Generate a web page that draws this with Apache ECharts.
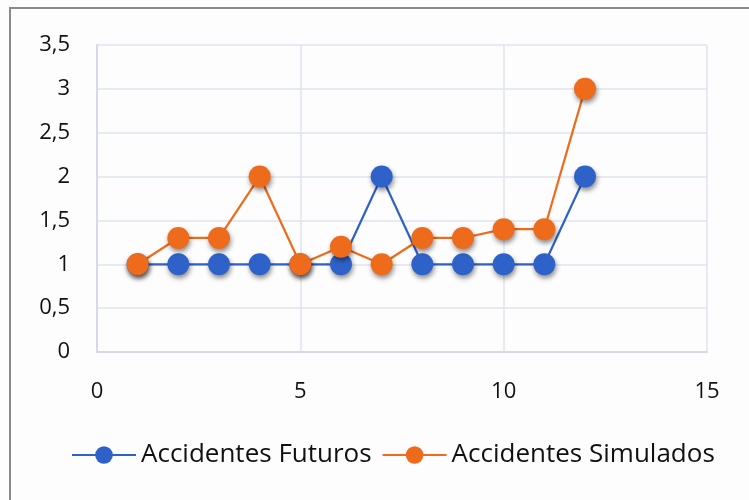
<!DOCTYPE html>
<html>
<head>
<meta charset="utf-8">
<script src="https://cdn.jsdelivr.net/npm/echarts@6/dist/echarts.min.js"></script>
<style>
  html, body { margin: 0; padding: 0; background: #fdfdfd; }
  #chart { width: 749px; height: 500px; }
</style>
</head>
<body>
<div id="chart"></div>
<script>
// Period index (x) and number of accidents for each series
const periods = [1, 2, 3, 4, 5, 6, 7, 8, 9, 10, 11, 12];
const accidentesFuturos = [1, 1, 1, 1, 1, 1, 2, 1, 1, 1, 1, 2];
const accidentesSimulados = [1, 1.3, 1.3, 2, 1, 1.2, 1, 1.3, 1.3, 1.4, 1.4, 3];
const seriesNames = ['Accidentes Futuros', 'Accidentes Simulados'];
const seriesColors = ['#2f62c9', '#ee6b1c'];

const FONT = 'Open Sans';
const TEXT_COLOR = '#111111';

const toPairs = ys => periods.map((x, i) => [x, ys[i]]);

function makeSeries(name, values, color) {
  return {
    name: name,
    type: 'line',
    data: toPairs(values),
    symbol: 'circle',
    symbolSize: 22,
    showSymbol: true,
    lineStyle: { color: color, width: 2.2 },
    itemStyle: {
      color: color,
      shadowBlur: 5,
      shadowColor: 'rgba(0,0,0,0.45)',
      shadowOffsetX: 1,
      shadowOffsetY: 3
    },
    emphasis: { disabled: true },
    animation: false
  };
}

const chart = echarts.init(document.getElementById('chart'), null, { renderer: 'canvas' });
chart.setOption({
  backgroundColor: '#fdfdfd',
  textStyle: { fontFamily: FONT },
  graphic: [{
    type: 'rect',
    shape: { x: 10, y: 8, width: 780, height: 520 },
    style: { fill: 'none', stroke: '#8a8a8a', lineWidth: 2 },
    silent: true
  }],
  grid: { left: 97, right: 42, top: 45, bottom: 148, containLabel: false },
  xAxis: {
    type: 'value',
    min: 0, max: 15, interval: 5,
    axisLine: { show: true, lineStyle: { color: '#d5dae4', width: 2 } },
    axisTick: { show: false },
    splitLine: { show: true, lineStyle: { color: '#dfe3eb', width: 1.5 } },
    axisLabel: { color: TEXT_COLOR, fontSize: 22, margin: 29, fontFamily: FONT }
  },
  yAxis: {
    type: 'value',
    min: 0, max: 3.5, interval: 0.5,
    axisLine: { show: true, lineStyle: { color: '#d5dae4', width: 2 } },
    axisTick: { show: false },
    splitLine: { show: true, lineStyle: { color: '#dfe3eb', width: 1.5 } },
    axisLabel: {
      color: TEXT_COLOR, fontSize: 22, margin: 27, fontFamily: FONT,
      formatter: v => String(v).replace('.', ',')
    }
  },
  legend: {
    bottom: 27,
    left: 66,
    itemWidth: 64,
    itemHeight: 22,
    itemGap: 10,
    textStyle: { color: TEXT_COLOR, fontSize: 26, fontFamily: FONT },
    data: seriesNames
  },
  series: [
    makeSeries(seriesNames[0], accidentesFuturos, seriesColors[0]),
    makeSeries(seriesNames[1], accidentesSimulados, seriesColors[1])
  ]
});
</script>
</body>
</html>
